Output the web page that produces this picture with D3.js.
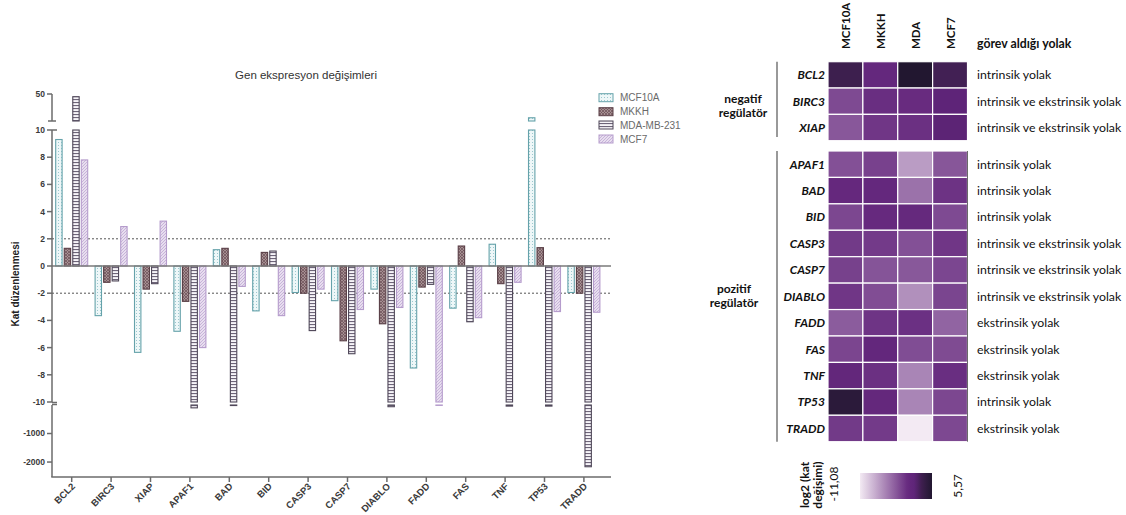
<!DOCTYPE html>
<html><head><meta charset="utf-8">
<script src="https://cdn.jsdelivr.net/npm/d3@7"></script>
<style>body{margin:0;background:#fff}</style>
</head><body>
<svg id="c" width="1126" height="515"></svg>
<script>
// ---------- data ----------
const genes = ["BCL2","BIRC3","XIAP","APAF1","BAD","BID","CASP3","CASP7","DIABLO","FADD","FAS","TNF","TP53","TRADD"];
const seriesNames = ["MCF10A","MKKH","MDA-MB-231","MCF7"];
const valMCF10A = [9.3,-3.65,-6.35,-4.8,1.2,-3.3,-1.95,-2.55,-1.7,-7.5,-3.1,1.6,28,-1.95];
const valMKKH   = [1.3,-1.2,-1.7,-2.6,1.3,1.0,-2.0,-5.5,-4.25,-1.55,1.47,-1.3,1.35,-2.0];
const valMDA    = [47.5,-1.1,-1.3,-100,-19,1.1,-4.75,-6.45,-60,-1.35,-4.1,-39,-39,-2165];
const valMCF7   = [7.8,2.9,3.3,-6.0,-1.5,-3.65,-1.7,-3.2,-3.05,-10.5,-3.8,-1.2,-3.35,-3.4];
const yTicksTop = [50];
const yTicksMid = [10,8,6,4,2,0,-2,-4,-6,-8,-10];
const yTicksLow = [-1000,-2000];
const thresholds = [2,-2];

const heatCols = ["MCF10A","MKKH","MDA","MCF7"];
const negGenes = ["BCL2","BIRC3","XIAP"];
const posGenes = ["APAF1","BAD","BID","CASP3","CASP7","DIABLO","FADD","FAS","TNF","TP53","TRADD"];
const heatMCF10A = [3.22,-1.87,-2.66,-2.26,0.26,-1.72,-0.96,-1.35,-0.77,-2.91,-1.63,0.68,4.8,-0.96];
const heatMKKH   = [0.38,-0.26,-0.77,-1.38,0.38,0,-1.0,-2.46,-2.09,-0.63,0.56,-0.38,0.43,-1.0];
const heatMDA    = [5.57,-0.14,-0.38,-6.6,-4.2,0.14,-2.25,-2.69,-5.9,-0.43,-2.04,-5.3,-5.3,-11.08];
const heatMCF7   = [2.96,1.54,1.72,-2.58,-0.58,-1.87,-0.77,-1.68,-1.61,-3.4,-1.93,-0.26,-1.74,-1.77];
const pathways = ["intrinsik yolak","intrinsik ve ekstrinsik yolak","intrinsik ve ekstrinsik yolak",
  "intrinsik yolak","intrinsik yolak","intrinsik yolak","intrinsik ve ekstrinsik yolak",
  "intrinsik ve ekstrinsik yolak","intrinsik ve ekstrinsik yolak","ekstrinsik yolak",
  "ekstrinsik yolak","ekstrinsik yolak","intrinsik yolak","ekstrinsik yolak"];
const colorMin = -11.08, colorMax = 5.57;
const colorMinLabel = "-11,08", colorMaxLabel = "5,57";

// ---------- setup ----------
const svg = d3.select("#c");
const AX = "#6b6b6b";
const FA = "'Liberation Sans', Arial, sans-serif";
const FL = "Lato, 'Open Sans', sans-serif";
const defs = svg.append("defs");

function pat(id, w, h, bg, draw) {
  const p = defs.append("pattern").attr("id", id).attr("patternUnits","userSpaceOnUse")
    .attr("width", w).attr("height", h);
  p.append("rect").attr("width", w).attr("height", h).attr("fill", bg);
  draw(p);
}
pat("p0", 3, 3, "#eef7f8", p => p.append("rect").attr("x",1).attr("y",1).attr("width",1).attr("height",1).attr("fill","#9cc8cf"));
pat("p1", 3, 3, "#a68f92", p => {
  p.append("path").attr("d","M0,0L3,3M3,0L0,3").attr("stroke","#6a4f56").attr("stroke-width",0.7);
});
pat("p2", 3, 3, "#f6f4f8", p => p.append("rect").attr("x",0).attr("y",0).attr("width",3).attr("height",1.1).attr("fill","#6e6579"));
pat("p3", 3, 3, "#e8deef", p => p.append("path").attr("d","M0,3L3,0M-1,1L1,-1M2,4L4,2").attr("stroke","#bfa9d3").attr("stroke-width",0.8));
const fills = ["url(#p0)","url(#p1)","url(#p2)","url(#p3)"];
const strokes = ["#65a2aa","#5a3f47","#4f4759","#b59ccc"];
const seriesVals = [valMCF10A, valMKKH, valMDA, valMCF7];

// ---------- bar chart scales ----------
const x = d3.scaleBand(genes, [52, 603.6]);
const xs = d3.scaleBand(seriesNames, [0, 32]).paddingInner(0.25);
const yMid = d3.scaleLinear([-10, 10], [402, 130]).clamp(true);
const yTop = d3.scaleLinear([25, 50], [121, 94]);
const yLow = d3.scaleLinear([0, -2500], [405, 476.3]);
const xEnd = 611, yBottom = 477;

const g = svg.append("g");

// title
g.append("text").attr("x", 306).attr("y", 79).attr("text-anchor","middle")
  .attr("font-family", FA).attr("font-size", 11.5).attr("fill","#333").text("Gen ekspresyon değişimleri");

// threshold dashed lines
g.selectAll(".thr").data(thresholds).join("line")
  .attr("x1", 52).attr("x2", xEnd).attr("y1", d => yMid(d)).attr("y2", d => yMid(d))
  .attr("stroke","#555").attr("stroke-width",1).attr("stroke-dasharray","2,2");

// bars
seriesNames.forEach((s, i) => {
  const vals = seriesVals[i];
  const bx = j => x(genes[j]) + (x.bandwidth() - 32) / 2 + xs(s);
  const bw = xs.bandwidth();
  const gs = g.append("g").attr("fill", fills[i]).attr("stroke", strokes[i]).attr("stroke-width", 1.1);
  vals.forEach((v, j) => {
    const y0 = yMid(0), y1 = yMid(v);
    gs.append("rect").attr("x", bx(j)).attr("width", bw)
      .attr("y", Math.min(y0, y1)).attr("height", Math.max(0.5, Math.abs(y1 - y0)));
    if (v > 10) {
      const t = yTop(v), b = yTop(25);
      gs.append("rect").attr("x", bx(j)).attr("width", bw).attr("y", t).attr("height", b - t);
    }
    if (v < -10) {
      const t = yLow(0), b = yLow(v);
      gs.append("rect").attr("x", bx(j)).attr("width", bw).attr("y", t).attr("height", Math.max(0.4, b - t));
    }
  });
});

// zero line
g.append("line").attr("x1",52).attr("x2",xEnd).attr("y1",yMid(0)).attr("y2",yMid(0))
  .attr("stroke","#7a7a7a").attr("stroke-width",1.3);

// y axis segments
const axG = g.append("g").attr("stroke", AX).attr("stroke-width", 1.5).attr("fill","none");
axG.append("line").attr("x1",52).attr("x2",52).attr("y1",yTop(50)).attr("y2",yTop(25));
axG.append("line").attr("x1",48).attr("x2",56).attr("y1",yTop(25)).attr("y2",yTop(25));
axG.append("line").attr("x1",52).attr("x2",52).attr("y1",yMid(10)).attr("y2",yMid(-10));
axG.append("line").attr("x1",52).attr("x2",57).attr("y1",yMid(10)).attr("y2",yMid(10));
axG.append("line").attr("x1",52).attr("x2",57).attr("y1",yMid(-10)+0.5).attr("y2",yMid(-10)+0.5);
axG.append("line").attr("x1",52).attr("x2",57).attr("y1",yLow(0)-0.5).attr("y2",yLow(0)-0.5);
axG.append("line").attr("x1",52).attr("x2",52).attr("y1",yLow(0)).attr("y2",yBottom);
axG.append("line").attr("x1",51.25).attr("x2",xEnd).attr("y1",yBottom).attr("y2",yBottom);

function yTickSet(ticks, scale) {
  ticks.forEach(t => {
    const yy = scale(t);
    axG.append("line").attr("x1",47).attr("x2",52).attr("y1",yy).attr("y2",yy);
    g.append("text").attr("x",45).attr("y",yy).attr("dy","0.35em").attr("text-anchor","end")
      .attr("font-family",FA).attr("font-weight","bold").attr("font-size",8.5).attr("fill","#3a3a3a").text(t);
  });
}
yTickSet(yTicksTop, yTop);
yTickSet(yTicksMid, yMid);
yTickSet(yTicksLow, yLow);

// x ticks and labels
genes.forEach(gn => {
  const cx = x(gn) + x.bandwidth() / 2;
  axG.append("line").attr("x1",cx).attr("x2",cx).attr("y1",yBottom).attr("y2",yBottom+5);
  g.append("text").attr("transform",`translate(${cx+4},${yBottom+10}) rotate(-45)`)
    .attr("text-anchor","end").attr("font-family",FA).attr("font-weight","bold")
    .attr("font-size",9.5).attr("fill","#3a3a3a").text(gn);
});

// y title
g.append("text").attr("transform","translate(19,284) rotate(-90)").attr("text-anchor","middle")
  .attr("font-family",FA).attr("font-weight","bold").attr("font-size",10).attr("fill","#222").text("Kat düzenlenmesi");

// legend
const legY = [97.7, 111.7, 125, 139];
seriesNames.forEach((s, i) => {
  g.append("rect").attr("x",599).attr("y",legY[i]-4).attr("width",14).attr("height",8)
    .attr("fill",fills[i]).attr("stroke",strokes[i]).attr("stroke-width",1);
  g.append("text").attr("x",620).attr("y",legY[i]).attr("dy","0.36em")
    .attr("font-family",FA).attr("font-size",10).attr("fill","#6a6a6a").text(s);
});

// ---------- heatmap ----------
const heatVals = [heatMCF10A, heatMKKH, heatMDA, heatMCF7];
const color = d3.scaleLinear()
  .domain([colorMin, 0, 1.6, 3.2, colorMax])
  .range(["#f3eaf3","#66297e","#5e2478","#3d1f4e","#221730"]).clamp(true);
const hx = d3.scaleBand(heatCols, [828, 967.5]);
const yNeg = d3.scaleBand(negGenes, [61.7, 140.7]);
const yPos = d3.scaleBand(posGenes, [151, 441.7]);
const rowY = gn => negGenes.includes(gn) ? yNeg(gn) : yPos(gn);
const rowH = gn => negGenes.includes(gn) ? yNeg.bandwidth() : yPos.bandwidth();

const h = svg.append("g");
genes.forEach((gn, j) => {
  heatCols.forEach((c, i) => {
    h.append("rect").attr("x", hx(c)).attr("y", rowY(gn)).attr("width", hx.bandwidth()).attr("height", rowH(gn))
      .attr("fill", color(heatVals[i][j])).attr("stroke","#fff").attr("stroke-width",1.2);
  });
  const cy = rowY(gn) + rowH(gn) / 2;
  h.append("text").attr("x", 825).attr("y", cy).attr("dy","0.36em").attr("text-anchor","end")
    .attr("font-family",FL).attr("font-weight","bold").attr("font-style","italic").attr("font-size",12)
    .attr("fill","#111").text(gn);
  h.append("text").attr("x", 977).attr("y", cy).attr("dy","0.36em")
    .attr("font-family",FL).attr("font-size",12.3).attr("fill","#111").text(pathways[j]);
});
// column headers
heatCols.forEach(c => {
  const cx = hx(c) + hx.bandwidth() / 2;
  h.append("text").attr("transform",`translate(${cx+4.5},49) rotate(-90)`)
    .attr("font-family",FL).attr("font-weight","bold").attr("font-size",11.5).attr("fill","#111").text(c);
});
h.append("text").attr("x",977).attr("y",48).attr("font-family",FL).attr("font-weight","bold")
  .attr("font-size",12.3).attr("fill","#111").text("görev aldığı yolak");

// group brackets
h.append("line").attr("x1",777).attr("x2",777).attr("y1",61.7).attr("y2",137).attr("stroke","#555").attr("stroke-width",1.2);
h.append("line").attr("x1",777).attr("x2",777).attr("y1",151).attr("y2",441.7).attr("stroke","#555").attr("stroke-width",1.2);
h.append("line").attr("x1",967.5).attr("x2",967.5).attr("y1",151).attr("y2",441.7).attr("stroke","#444").attr("stroke-width",0.8);

function twoLine(cx, y1, l1, l2) {
  h.append("text").attr("x",cx).attr("y",y1).attr("text-anchor","middle").attr("font-family",FL)
    .attr("font-weight","bold").attr("font-size",12).attr("fill","#111").text(l1);
  h.append("text").attr("x",cx).attr("y",y1+14).attr("text-anchor","middle").attr("font-family",FL)
    .attr("font-weight","bold").attr("font-size",12).attr("fill","#111").text(l2);
}
twoLine(743, 103, "negatif", "regülatör");
twoLine(734, 293, "pozitif", "regülatör");

// color bar
const grad = defs.append("linearGradient").attr("id","cbar").attr("x1","0%").attr("x2","100%");
d3.range(0, 1.0001, 0.05).forEach(f => {
  grad.append("stop").attr("offset", (f*100)+"%").attr("stop-color", color(colorMin + f*(colorMax-colorMin)));
});
h.append("rect").attr("x",860).attr("y",473).attr("width",72).attr("height",26).attr("fill","url(#cbar)");
h.append("text").attr("transform","translate(838,484) rotate(-90)").attr("text-anchor","middle")
  .attr("font-family",FL).attr("font-size",12).attr("fill","#111").text(colorMinLabel);
h.append("text").attr("transform","translate(962,486) rotate(-90)").attr("text-anchor","middle")
  .attr("font-family",FL).attr("font-size",12).attr("fill","#111").text(colorMaxLabel);
h.append("text").attr("transform","translate(809,485) rotate(-90)").attr("text-anchor","middle")
  .attr("font-family",FL).attr("font-weight","bold").attr("font-size",12).attr("fill","#111").text("log2 (kat");
h.append("text").attr("transform","translate(822,485) rotate(-90)").attr("text-anchor","middle")
  .attr("font-family",FL).attr("font-weight","bold").attr("font-size",12).attr("fill","#111").text("değişimi)");
</script>
</body></html>
